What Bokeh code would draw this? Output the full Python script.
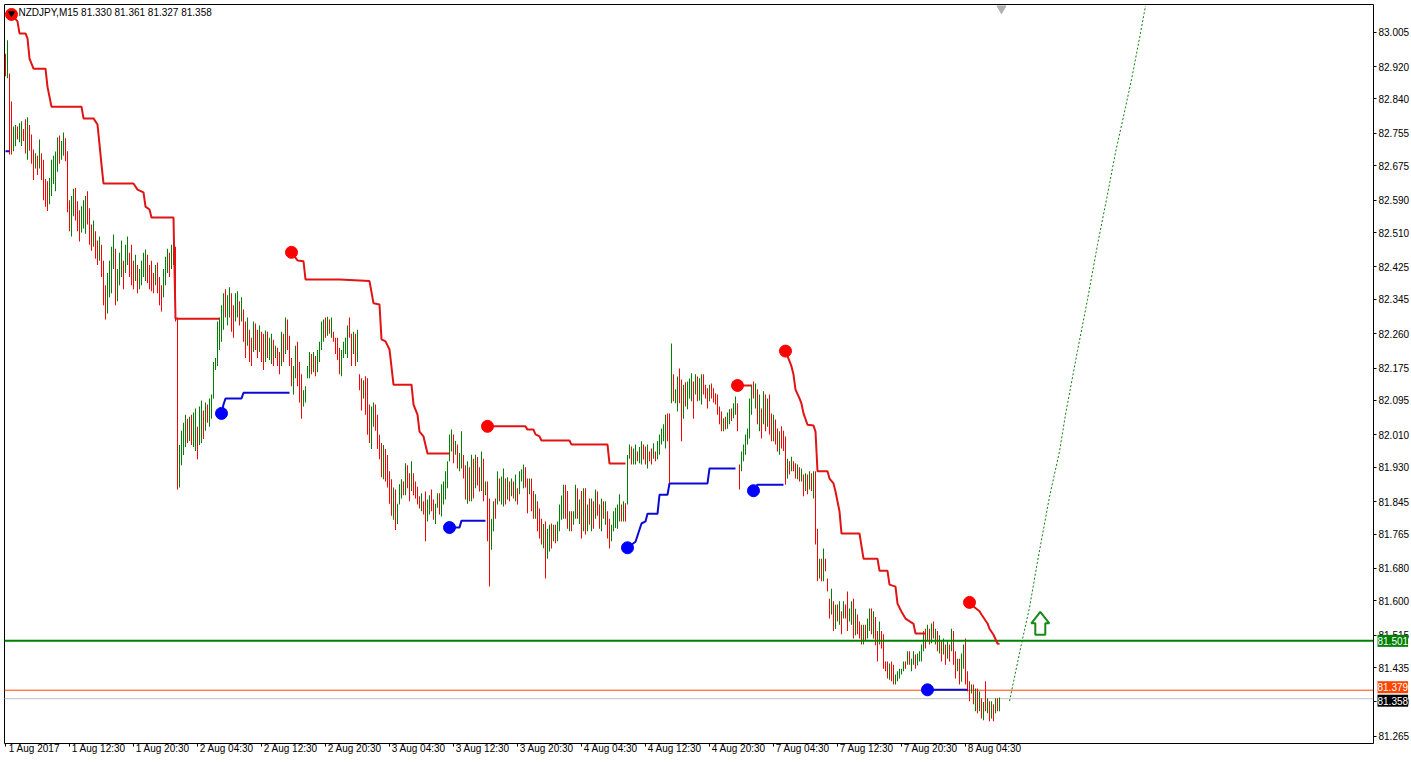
from bokeh.plotting import figure
from bokeh.models import (Range1d, FixedTicker, PrintfTickFormatter, Label, LinearAxis)
from bokeh.embed import file_html
from bokeh.resources import INLINE

# ---------------- data (M15 bars, NZDJPY) ----------------
symbol = "NZDJPY,M15"
first_open = 82.940

highs = [
 82.952, 82.985, 82.903, 82.834, 82.772, 82.776, 82.772, 82.780, 82.785, 82.766,
 82.790, 82.795, 82.776, 82.752, 82.715, 82.706, 82.700, 82.740, 82.706, 82.690,
 82.642, 82.637, 82.645, 82.690, 82.700, 82.710, 82.745, 82.750, 82.736, 82.757,
 82.743, 82.711, 82.590, 82.600, 82.618, 82.620, 82.587, 82.565, 82.575, 82.590,
 82.600, 82.612, 82.570, 82.530, 82.540, 82.513, 82.490, 82.500, 82.480, 82.440,
 82.380, 82.410, 82.440, 82.475, 82.505, 82.470, 82.420, 82.460, 82.490, 82.440,
 82.480, 82.500, 82.460, 82.480, 82.440, 82.455, 82.430, 82.420, 82.440, 82.460,
 82.468, 82.455, 82.430, 82.440, 82.410, 82.430, 82.436, 82.400, 82.380, 82.420,
 82.450, 82.470, 82.460, 82.480, 82.487, 82.475, 82.300, 81.985, 82.020, 82.040,
 82.060, 82.050, 82.055, 82.060, 82.065, 82.075, 82.030, 82.080, 82.095, 82.070,
 82.090, 82.085, 82.100, 82.110, 82.190, 82.200, 82.290, 82.300, 82.330, 82.360,
 82.370, 82.355, 82.375, 82.360, 82.330, 82.360, 82.365, 82.340, 82.350, 82.320,
 82.290, 82.300, 82.270, 82.250, 82.290, 82.285, 82.270, 82.280, 82.265, 82.260,
 82.268, 82.265, 82.250, 82.260, 82.245, 82.230, 82.225, 82.215, 82.265, 82.260,
 82.300, 82.295, 82.255, 82.200, 82.180, 82.230, 82.240, 82.190, 82.160, 82.120,
 82.130, 82.180, 82.215, 82.210, 82.215, 82.205, 82.220, 82.240, 82.290, 82.295,
 82.300, 82.302, 82.295, 82.300, 82.265, 82.250, 82.250, 82.225, 82.220, 82.240,
 82.250, 82.280, 82.300, 82.260, 82.265, 82.260, 82.270, 82.160, 82.150, 82.145,
 82.155, 82.150, 82.085, 82.080, 82.090, 82.085, 82.060, 82.010, 81.990, 81.985,
 81.975, 81.960, 81.920, 81.900, 81.880, 81.875, 81.840, 81.888, 81.900, 81.895,
 81.940, 81.935, 81.915, 81.945, 81.915, 81.895, 81.882, 81.858, 81.866, 81.846,
 81.870, 81.850, 81.861, 81.875, 81.850, 81.840, 81.866, 81.866, 81.888, 81.895,
 81.920, 81.945, 82.011, 82.023, 82.011, 81.995, 81.986, 81.965, 82.019, 81.960,
 81.935, 81.945, 81.930, 81.961, 81.951, 81.961, 81.955, 81.930, 81.969, 81.951,
 81.895, 81.895, 81.853,
 81.803, 81.846, 81.853, 81.920, 81.902, 81.907, 81.927, 81.902, 81.905, 81.895,
 81.902, 81.895, 81.912, 81.878, 81.920, 81.925, 81.937, 81.930, 81.902, 81.902,
 81.902, 81.871, 81.863, 81.846, 81.828, 81.803, 81.790, 81.796, 81.778, 81.788,
 81.791, 81.788, 81.788, 81.796, 81.838, 81.860, 81.887, 81.887, 81.871, 81.821,
 81.821, 81.821, 81.887, 81.878, 81.850, 81.871, 81.878, 81.878, 81.838, 81.853,
 81.853, 81.846, 81.875, 81.870, 81.838, 81.853, 81.846, 81.846, 81.821, 81.803,
 81.788, 81.821, 81.830, 81.838, 81.863, 81.838, 81.846, 81.841,
 81.960, 81.986, 81.981, 81.976, 81.986, 81.969, 81.980, 81.994, 81.986, 81.981,
 81.986, 81.969, 81.976, 81.989, 81.969, 81.995, 82.011, 82.026, 82.036, 82.060,
 82.063, 82.063,
 82.236, 82.160, 82.123, 82.154, 82.174, 82.147, 82.134, 82.140, 82.142, 82.149,
 82.162, 82.142, 82.160, 82.154, 82.150, 82.160, 82.160, 82.134, 82.125, 82.134,
 82.137, 82.125, 82.113, 82.110, 82.080, 82.068, 82.051, 82.055, 82.065, 82.073,
 82.075, 82.088, 82.105, 82.088,
 81.937, 81.969, 81.986, 82.011, 82.026, 82.100, 82.134,
 82.142, 82.137, 82.123, 82.110, 82.075, 82.118, 82.110, 82.100, 82.110, 82.063,
 82.060, 82.048, 82.026, 82.019, 82.031, 82.020, 82.006, 81.951, 81.945, 81.956,
 81.945, 81.940, 81.937, 81.930, 81.927, 81.912, 81.915, 81.912, 81.920, 81.915,
 81.920, 81.920, 81.778, 81.704, 81.704, 81.729, 81.704, 81.655, 81.605, 81.630,
 81.599, 81.590, 81.591, 81.599, 81.574, 81.599, 81.591, 81.623, 81.581, 81.599,
 81.605, 81.580, 81.566, 81.549, 81.541, 81.541, 81.541, 81.556, 81.581, 81.581,
 81.574, 81.560, 81.525, 81.549, 81.525, 81.517, 81.450, 81.450, 81.445, 81.450,
 81.442, 81.418, 81.426, 81.432, 81.432, 81.450, 81.450, 81.475, 81.475, 81.457,
 81.475, 81.467, 81.470, 81.475, 81.492, 81.525, 81.531, 81.541, 81.531, 81.544,
 81.549, 81.531, 81.525, 81.515, 81.500, 81.507, 81.492, 81.500, 81.492, 81.531,
 81.525, 81.475, 81.457, 81.457, 81.470, 81.492, 81.507, 81.426, 81.401, 81.393,
 81.393, 81.383, 81.383, 81.376, 81.359, 81.350, 81.401, 81.359, 81.352, 81.352,
 81.344, 81.359, 81.359, 81.361,
]

lows = [
 82.896, 82.891, 82.703, 82.703, 82.711, 82.723, 82.740, 82.733, 82.724, 82.736,
 82.705, 82.690, 82.712, 82.680, 82.640, 82.668, 82.652, 82.668, 82.640, 82.590,
 82.574, 82.563, 82.580, 82.600, 82.630, 82.612, 82.660, 82.680, 82.690, 82.700,
 82.686, 82.560, 82.513, 82.500, 82.550, 82.540, 82.513, 82.488, 82.510, 82.520,
 82.507, 82.530, 82.480, 82.465, 82.475, 82.445, 82.430, 82.440, 82.400, 82.330,
 82.295, 82.310, 82.350, 82.360, 82.420, 82.330, 82.340, 82.380, 82.400, 82.370,
 82.410, 82.430, 82.400, 82.380, 82.370, 82.390, 82.360, 82.370, 82.380, 82.400,
 82.390, 82.385, 82.370, 82.365, 82.360, 82.380, 82.360, 82.330, 82.315, 82.350,
 82.380, 82.410, 82.400, 82.420, 82.430, 82.290, 81.875, 81.880, 81.935, 81.960,
 81.980, 81.990, 81.995, 81.985, 81.980, 81.970, 81.950, 81.985, 81.990, 82.000,
 82.020, 82.040, 82.030, 82.050, 82.100, 82.170, 82.180, 82.220, 82.240, 82.270,
 82.300, 82.280, 82.300, 82.265, 82.250, 82.290, 82.300, 82.280, 82.290, 82.240,
 82.200, 82.230, 82.190, 82.180, 82.215, 82.220, 82.200, 82.215, 82.190, 82.170,
 82.190, 82.200, 82.195, 82.185, 82.180, 82.200, 82.180, 82.160, 82.180, 82.190,
 82.210, 82.220, 82.180, 82.130, 82.110, 82.150, 82.130, 82.090, 82.050, 82.080,
 82.090, 82.150, 82.150, 82.160, 82.165, 82.155, 82.165, 82.190, 82.220, 82.240,
 82.250, 82.255, 82.260, 82.250, 82.240, 82.210, 82.195, 82.160, 82.155, 82.200,
 82.210, 82.200, 82.250, 82.180, 82.210, 82.180, 82.190, 82.120, 82.070, 82.100,
 82.060, 82.010, 81.990, 81.975, 82.030, 82.020, 81.975, 81.950, 81.905, 81.900,
 81.895, 81.880, 81.840, 81.810, 81.800, 81.775, 81.790, 81.838, 81.853, 81.861,
 81.861, 81.878, 81.846, 81.871, 81.861, 81.853, 81.838, 81.828, 81.821, 81.813,
 81.747, 81.796, 81.813, 81.821, 81.800, 81.790, 81.830, 81.813, 81.808, 81.838,
 81.850, 81.878, 81.945, 81.969, 81.940, 81.961, 81.927, 81.920, 81.927, 81.902,
 81.850, 81.840, 81.846, 81.846, 81.853, 81.878, 81.885, 81.870, 81.871, 81.846,
 81.861, 81.747, 81.635,
 81.726, 81.772, 81.803, 81.838, 81.846, 81.838, 81.833, 81.838, 81.850, 81.846,
 81.858, 81.853, 81.846, 81.838, 81.863, 81.895, 81.878, 81.880, 81.816, 81.863,
 81.821, 81.803, 81.803, 81.772, 81.754, 81.739, 81.730, 81.655, 81.704, 81.722,
 81.729, 81.747, 81.742, 81.747, 81.772, 81.800, 81.803, 81.803, 81.778, 81.772,
 81.772, 81.788, 81.803, 81.803, 81.790, 81.754, 81.772, 81.764, 81.772, 81.788,
 81.772, 81.778, 81.803, 81.810, 81.778, 81.772, 81.803, 81.788, 81.754, 81.729,
 81.747, 81.772, 81.780, 81.778, 81.796, 81.796, 81.796, 81.796,
 81.838, 81.951, 81.937, 81.937, 81.937, 81.945, 81.940, 81.937, 81.949, 81.937,
 81.927, 81.945, 81.937, 81.951, 81.945, 81.950, 81.961, 81.986, 81.994, 81.976,
 81.994, 81.887,
 82.088, 82.093, 82.088, 82.068, 82.088, 81.994, 82.050, 82.080, 82.073, 82.100,
 82.093, 82.050, 82.110, 82.093, 82.095, 82.085, 82.110, 82.100, 82.075, 82.093,
 82.100, 82.090, 82.085, 82.060, 82.036, 82.019, 82.019, 82.023, 82.025, 82.036,
 82.044, 82.051, 82.060, 82.019,
 81.875, 81.920, 81.945, 81.961, 81.986, 82.001, 82.060,
 82.100, 82.075, 82.036, 82.019, 82.001, 82.036, 82.019, 82.030, 82.011, 81.994,
 81.994, 81.986, 81.969, 81.961, 81.976, 81.970, 81.887, 81.902, 81.912, 81.920,
 81.920, 81.902, 81.900, 81.895, 81.895, 81.858, 81.871, 81.863, 81.875, 81.871,
 81.853, 81.739, 81.648, 81.655, 81.648, 81.648, 81.673, 81.623, 81.556, 81.566,
 81.525, 81.530, 81.549, 81.541, 81.517, 81.556, 81.556, 81.525, 81.549, 81.541,
 81.507, 81.515, 81.517, 81.507, 81.492, 81.492, 81.500, 81.507, 81.525, 81.517,
 81.507, 81.490, 81.450, 81.492, 81.482, 81.432, 81.426, 81.408, 81.405, 81.401,
 81.393, 81.393, 81.401, 81.408, 81.418, 81.426, 81.432, 81.442, 81.442, 81.426,
 81.442, 81.432, 81.440, 81.450, 81.450, 81.475, 81.482, 81.500, 81.492, 81.495,
 81.507, 81.492, 81.475, 81.470, 81.450, 81.467, 81.442, 81.457, 81.450, 81.475,
 81.442, 81.408, 81.426, 81.393, 81.400, 81.432, 81.393, 81.376, 81.352, 81.371,
 81.344, 81.327, 81.322, 81.327, 81.309, 81.305, 81.327, 81.322, 81.302, 81.309,
 81.302, 81.322, 81.327, 81.327,
]

closes = [
 82.900, 82.950, 82.720, 82.710, 82.760, 82.770, 82.745, 82.775, 82.780, 82.740,
 82.715, 82.785, 82.720, 82.690, 82.660, 82.700, 82.660, 82.735, 82.650, 82.600,
 82.580, 82.570, 82.640, 82.685, 82.695, 82.705, 82.740, 82.690, 82.730, 82.750,
 82.690, 82.570, 82.520, 82.590, 82.610, 82.550, 82.520, 82.495, 82.570, 82.585,
 82.595, 82.540, 82.490, 82.470, 82.530, 82.450, 82.440, 82.495, 82.410, 82.340,
 82.300, 82.400, 82.430, 82.470, 82.500, 82.340, 82.410, 82.450, 82.485, 82.380,
 82.475, 82.495, 82.410, 82.390, 82.375, 82.450, 82.370, 82.410, 82.435, 82.455,
 82.460, 82.390, 82.380, 82.370, 82.365, 82.425, 82.365, 82.335, 82.320, 82.415,
 82.445, 82.465, 82.410, 82.475, 82.480, 82.300, 81.900, 81.975, 82.010, 82.030,
 82.050, 82.000, 82.050, 81.995, 82.060, 82.070, 81.960, 82.075, 82.090, 82.010,
 82.085, 82.045, 82.095, 82.105, 82.185, 82.195, 82.285, 82.295, 82.325, 82.355,
 82.305, 82.350, 82.370, 82.270, 82.260, 82.355, 82.360, 82.285, 82.345, 82.245,
 82.210, 82.295, 82.200, 82.190, 82.285, 82.225, 82.205, 82.275, 82.195, 82.175,
 82.260, 82.205, 82.245, 82.255, 82.185, 82.225, 82.185, 82.165, 82.260, 82.195,
 82.295, 82.225, 82.185, 82.135, 82.175, 82.225, 82.135, 82.095, 82.060, 82.115,
 82.125, 82.175, 82.210, 82.165, 82.210, 82.160, 82.215, 82.235, 82.285, 82.290,
 82.255, 82.298, 82.265, 82.295, 82.245, 82.215, 82.200, 82.165, 82.215, 82.235,
 82.245, 82.275, 82.255, 82.185, 82.260, 82.185, 82.265, 82.125, 82.075, 82.140,
 82.065, 82.020, 81.995, 82.075, 82.085, 82.025, 81.980, 81.955, 81.910, 81.980,
 81.900, 81.885, 81.845, 81.815, 81.875, 81.780, 81.835, 81.885, 81.895, 81.865,
 81.935, 81.880, 81.850, 81.940, 81.865, 81.858, 81.842, 81.832, 81.860, 81.818,
 81.760, 81.845, 81.858, 81.825, 81.805, 81.835, 81.862, 81.818, 81.885, 81.890,
 81.915, 81.940, 82.005, 82.015, 81.945, 81.990, 81.930, 81.960, 82.010, 81.905,
 81.855, 81.940, 81.850, 81.955, 81.860, 81.955, 81.890, 81.875, 81.965, 81.850,
 81.890, 81.755, 81.700,
 81.795, 81.840, 81.810, 81.915, 81.850, 81.900, 81.920, 81.845, 81.900, 81.850,
 81.898, 81.858, 81.908, 81.842, 81.915, 81.920, 81.932, 81.885, 81.820, 81.898,
 81.825, 81.808, 81.858, 81.775, 81.758, 81.742, 81.785, 81.700, 81.770, 81.785,
 81.735, 81.783, 81.748, 81.792, 81.835, 81.855, 81.882, 81.808, 81.782, 81.815,
 81.778, 81.818, 81.882, 81.808, 81.845, 81.760, 81.872, 81.770, 81.832, 81.795,
 81.848, 81.783, 81.870, 81.815, 81.782, 81.848, 81.808, 81.842, 81.758, 81.735,
 81.785, 81.818, 81.826, 81.834, 81.860, 81.800, 81.842, 81.800,
 81.955, 81.980, 81.942, 81.972, 81.982, 81.948, 81.976, 81.990, 81.952, 81.940,
 81.982, 81.948, 81.940, 81.985, 81.950, 81.992, 82.008, 82.022, 82.032, 82.055,
 82.000, 81.900,
 82.180, 82.100, 82.118, 82.150, 82.095, 82.020, 82.130, 82.085, 82.138, 82.145,
 82.158, 82.055, 82.155, 82.098, 82.146, 82.156, 82.115, 82.105, 82.080, 82.130,
 82.105, 82.095, 82.088, 82.065, 82.040, 82.025, 82.048, 82.028, 82.060, 82.070,
 82.050, 82.085, 82.100, 82.025,
 81.880, 81.965, 81.982, 82.008, 82.022, 82.095, 82.130,
 82.105, 82.132, 82.040, 82.105, 82.005, 82.112, 82.025, 82.095, 82.015, 81.998,
 82.055, 81.990, 81.972, 82.015, 81.980, 81.975, 81.895, 81.945, 81.915, 81.952,
 81.925, 81.905, 81.932, 81.900, 81.925, 81.862, 81.912, 81.866, 81.916, 81.875,
 81.915, 81.745, 81.655, 81.700, 81.652, 81.725, 81.676, 81.626, 81.560, 81.625,
 81.530, 81.585, 81.552, 81.595, 81.520, 81.595, 81.560, 81.530, 81.578, 81.595,
 81.512, 81.575, 81.520, 81.510, 81.495, 81.538, 81.505, 81.552, 81.578, 81.522,
 81.570, 81.495, 81.455, 81.545, 81.485, 81.436, 81.428, 81.412, 81.440, 81.405,
 81.398, 81.415, 81.422, 81.428, 81.430, 81.446, 81.436, 81.470, 81.446, 81.454,
 81.472, 81.436, 81.466, 81.472, 81.488, 81.520, 81.488, 81.536, 81.496, 81.540,
 81.512, 81.528, 81.480, 81.510, 81.455, 81.503, 81.446, 81.496, 81.455, 81.526,
 81.448, 81.412, 81.452, 81.398, 81.465, 81.488, 81.398, 81.380, 81.356, 81.390,
 81.348, 81.378, 81.326, 81.372, 81.312, 81.345, 81.332, 81.355, 81.306, 81.348,
 81.305, 81.355, 81.330, 81.358,
]

# time axis labels (one every 8 hours = 32 M15 bars)
tick_labels = ["1 Aug 2017", "1 Aug 12:30", "1 Aug 20:30", "2 Aug 04:30", "2 Aug 12:30",
               "2 Aug 20:30", "3 Aug 04:30", "3 Aug 12:30", "3 Aug 20:30", "4 Aug 04:30",
               "4 Aug 12:30", "4 Aug 20:30", "7 Aug 04:30", "7 Aug 12:30", "7 Aug 20:30",
               "8 Aug 04:30"]
bars_per_label = 32

# price scale ticks
y_ticks = [83.005, 82.920, 82.840, 82.755, 82.675, 82.590, 82.510, 82.425, 82.345, 82.260,
           82.175, 82.095, 82.010, 81.930, 81.845, 81.765, 81.680, 81.600, 81.515, 81.435,
           81.350, 81.265]

# trailing resistance (red) segments: bar index / price
red1_x = [3, 6, 7, 10, 11, 12, 14, 20, 21, 23, 38, 39, 44, 46, 47, 48, 49, 64, 66, 69, 70, 72, 73, 84, 85, 107]
red1_y = [83.049, 83.032, 83.002, 83.002, 82.990, 82.940, 82.915, 82.915, 82.870, 82.821, 82.821, 82.792, 82.792,
          82.777, 82.728, 82.678, 82.631, 82.631, 82.616, 82.609, 82.574, 82.567, 82.547, 82.547, 82.297, 82.297]
red2_x = [143, 146, 149, 150, 167, 182, 184, 187, 188, 190, 192, 194, 203, 204, 206, 207, 209, 211, 222]
red2_y = [82.461, 82.441, 82.439, 82.394, 82.394, 82.390, 82.335, 82.332, 82.246, 82.241, 82.221, 82.134, 82.134,
          82.085, 82.060, 82.018, 82.006, 81.964, 81.964]
red3_x = [241, 260, 261, 264, 265, 267, 268, 282, 283, 301, 302, 310]
red3_y = [82.031, 82.031, 82.023, 82.023, 82.011, 82.006, 81.996, 81.996, 81.986, 81.986, 81.939, 81.939]
red4_x = [366, 373]
red4_y = [82.132, 82.132]
red5_x = [390, 392, 393, 394, 395, 397, 398, 399, 401, 404, 405, 406, 411, 412, 414, 415, 417, 418, 427, 429, 436,
          437, 441, 442, 445, 446, 448, 450, 454, 455, 460]
red5_y = [82.217, 82.192, 82.179, 82.159, 82.122, 82.100, 82.087, 82.063, 82.035, 82.033, 82.018, 81.920, 81.920,
          81.902, 81.890, 81.870, 81.821, 81.766, 81.766, 81.704, 81.704, 81.674, 81.674, 81.640, 81.635, 81.593,
          81.573, 81.556, 81.543, 81.519, 81.519]
red6_x = [482, 484, 487, 488, 491, 492, 494, 496, 497]
red6_y = [81.596, 81.586, 81.574, 81.566, 81.544, 81.531, 81.516, 81.494, 81.494]

# trailing support (blue) segments
blue0_x = [0, 2]
blue0_y = [82.711, 82.711]
blue1_x = [108, 109, 110, 118, 119, 142]
blue1_y = [82.063, 82.085, 82.100, 82.100, 82.114, 82.114]
blue2_x = [222, 227, 228, 240]
blue2_y = [81.781, 81.781, 81.798, 81.798]
blue3_x = [311, 315, 318, 320, 321, 326, 327, 331, 332, 351, 352, 365]
blue3_y = [81.731, 81.746, 81.791, 81.796, 81.815, 81.815, 81.862, 81.862, 81.890, 81.890, 81.927, 81.927]
blue4_x = [374, 376, 389]
blue4_y = [81.872, 81.887, 81.887]
blue5_x = [461, 481]
blue5_y = [81.380, 81.380]

# horizontal levels
level_green = 81.501
level_orange = 81.379

# projected path (dotted)
proj_x = [502, 508, 512, 516, 522, 527, 530, 536, 541, 546, 551, 555, 559, 563, 567, 570]
proj_y = [81.352, 81.494, 81.583, 81.697, 81.857, 81.969, 82.060, 82.218, 82.344, 82.480, 82.604,
          82.708, 82.797, 82.888, 82.990, 83.070]

# buy arrow anchor (bar index, price at arrow base)
arrow_x = 517.4
arrow_y = 81.516

# ---------------- build ----------------
n = len(closes)
if not (len(highs) == len(lows) == n):
    raise SystemExit(f"length mismatch {len(highs)} {len(lows)} {n}")
opens = [first_open] + closes[:-1]

# ---- layout: the plot frame covers the whole canvas; the chart box sits inside it
W, H = 1410, 760
PPB = 2.0                        # pixels per bar (MT4 zoom level)
X0 = -2.5
X1 = X0 + W / PPB
BOX_L, BOX_R, BOX_T, BOX_B = 4, 1373, 4, 743      # chart box in screen px
P_TOP, P_BOT = 83.0735, 81.2473                   # prices at box top / bottom
ppu = (BOX_B - BOX_T) / (P_TOP - P_BOT)
Y1 = P_TOP + BOX_T / ppu
Y0 = Y1 - H / ppu
XL = X0 + BOX_L / PPB
XR = X0 + BOX_R / PPB
HALF_PX = 0.5 / PPB             # half a screen pixel, in bar units

FONT = "Liberation Sans"

p = figure(width=W, height=H, x_range=Range1d(X0, X1), y_range=Range1d(Y0, Y1),
           output_backend="svg", toolbar_location=None,
           x_axis_location=None, y_axis_location=None,
           min_border_left=0, min_border_top=0, min_border_right=0, min_border_bottom=0,
           background_fill_color="white", border_fill_color="white",
           outline_line_color=None)
p.grid.visible = False

# price scale on the right of the chart box
ya = LinearAxis(fixed_location=XR, bounds=(P_BOT, P_TOP),
                ticker=FixedTicker(ticks=y_ticks), formatter=PrintfTickFormatter(format="%.3f"))
ya.major_label_text_font = FONT
ya.major_label_text_font_size = "10px"
ya.major_label_text_color = "black"
ya.major_label_standoff = 2
ya.major_tick_out = 3
ya.major_tick_in = 0
ya.minor_tick_line_color = None
ya.axis_line_color = "black"
ya.major_tick_line_color = "black"
p.add_layout(ya, "right")

# time scale under the chart box, labels start just right of their tick (MT4 style)
AW = {" ": 0.278, "\u00a0": 0.278, ":": 0.278, "A": 0.667, "u": 0.556, "g": 0.556}
def text_w(s, size=10.0):
    return sum(AW.get(ch, 0.556) for ch in s) * size

tick_pos = [k * bars_per_label for k in range(len(tick_labels))]
overrides = {}
for t, lab in zip(tick_pos, tick_labels):
    sx_tick = (t - X0) * PPB
    npad = int(round((text_w(lab) + 4.0) / (0.278 * 10.0)))
    if sx_tick - (text_w(lab) + npad * 2.78) / 2 < 0:
        npad = int(round((sx_tick + 2.0) / 2.78))
    overrides[t] = "\u00a0" * npad + lab
xa = LinearAxis(fixed_location=P_BOT, bounds=(XL, XR), ticker=FixedTicker(ticks=tick_pos))
xa.major_label_overrides = overrides
xa.major_label_text_font = FONT
xa.major_label_text_font_size = "10px"
xa.major_label_text_color = "black"
xa.major_label_standoff = -4
xa.major_tick_out = 3
xa.major_tick_in = 0
xa.minor_tick_line_color = None
xa.axis_line_color = "black"
xa.major_tick_line_color = "black"
p.add_layout(xa, "below")

# left and top edges of the chart box
p.line([XL, XL, XR], [P_BOT, P_TOP, P_TOP], line_color="black", line_width=1)

# horizontal levels (bid, pending order)
p.segment(x0=[XL], y0=[closes[-1]], x1=[XR], y1=[closes[-1]], line_color="#c0c0c0", line_width=1)
p.segment(x0=[XL], y0=[level_orange], x1=[XR], y1=[level_orange], line_color="#ff4500", line_width=1)

# bars: one pixel wide filled columns centred on the bar, one glyph per colour
groups = {"#008000": [], "#ff0000": [], "#000000": []}
for i, (o, c) in enumerate(zip(opens, closes)):
    key = "#008000" if c > o else ("#ff0000" if c < o else "#000000")
    groups[key].append(i)
for col, ids in groups.items():
    if ids:
        p.quad(left=[i - HALF_PX for i in ids], right=[i + HALF_PX for i in ids],
               bottom=[lows[i] for i in ids], top=[highs[i] for i in ids],
               fill_color=col, line_color=None)

# green level
p.segment(x0=[XL], y0=[level_green], x1=[XR], y1=[level_green], line_color="#008000", line_width=2)

# indicator lines
BLUE_L, BLUE_D, RED_L, RED_D = "#0a0ad2", "#0000ff", "#e01414", "#ff0000"
p.line(blue0_x, blue0_y, line_color=BLUE_L, line_width=2)
for xs, ys in [(blue1_x, blue1_y), (blue2_x, blue2_y), (blue3_x, blue3_y), (blue4_x, blue4_y), (blue5_x, blue5_y)]:
    p.line(xs, ys, line_color=BLUE_L, line_width=2)
    p.scatter([xs[0]], [ys[0]], size=12, color=BLUE_D)
for xs, ys in [(red1_x, red1_y), (red2_x, red2_y), (red3_x, red3_y), (red4_x, red4_y), (red5_x, red5_y), (red6_x, red6_y)]:
    p.line(xs, ys, line_color=RED_L, line_width=2)
    p.scatter([xs[0]], [ys[0]], size=12, color=RED_D)
p.scatter([red1_x[0]], [red1_y[0] + 1.0 / ppu], marker="inverted_triangle", size=6, color="black")

# projection
p.line(proj_x, proj_y, line_color="#0a7d0a", line_width=1, line_dash="2 2")

# hollow up arrow
shape = [(-5, 0), (5, 0), (5, 11.5), (9, 11.5), (0, 23), (-9, 11.5), (-5, 11.5)]
p.patch([arrow_x + dx / PPB for dx, dy in shape], [arrow_y + dy / ppu for dx, dy in shape],
        fill_color="white", line_color="#168a16", line_width=2)

# chart shift marker at the top
p.scatter([n], [P_TOP - 4.0 / ppu], marker="inverted_triangle", size=9, color="#b0b0b0")

# header
header = f"{symbol}  {opens[-1]:.3f} {highs[-1]:.3f} {lows[-1]:.3f} {closes[-1]:.3f}"
p.add_layout(Label(x=X0 + 18 / PPB, y=P_TOP - 8.0 / ppu, text=header, text_font=FONT,
                   text_font_size="10px", text_color="black",
                   text_baseline="middle", text_align="left"))

# price boxes on the scale (MT4 nudges overlapping boxes apart)
for val, bg, nudge in [(level_green, "#008000", 0), (level_orange, "#ff4500", 3), (closes[-1], "#000000", -2)]:
    p.add_layout(Label(x=XR, y=val, x_offset=4, y_offset=nudge, text=f"{val:.3f}", text_font=FONT,
                       text_font_size="10px", text_color="white", text_baseline="middle",
                       text_align="left", background_fill_color=bg, padding=(0, 2)))

open("out.html", "w").write(file_html(p, INLINE))
